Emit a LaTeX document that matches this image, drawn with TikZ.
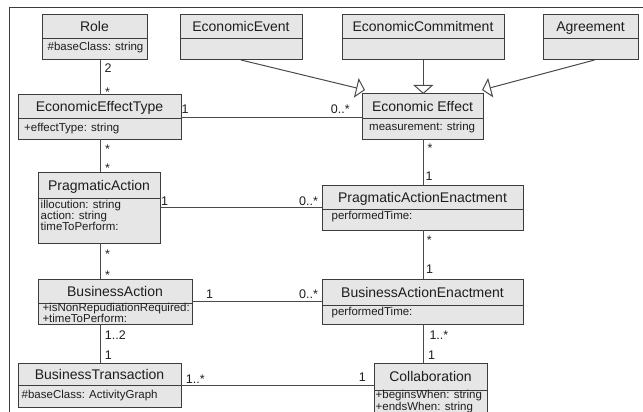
\documentclass[tikz,border=0pt]{standalone}
\usepackage{fontspec}
\setmainfont{Liberation Sans}
\usetikzlibrary{arrows.meta,calc}
\definecolor{boxfill}{HTML}{E6E6E6}
\definecolor{boxline}{HTML}{3C3C3C}
\definecolor{connline}{HTML}{4A4A4A}
\definecolor{txtcol}{HTML}{1E1E1E}
\tikzset{
  clsbox/.style={draw=boxline, fill=boxfill, line width=1pt, inner sep=0pt, outer sep=0pt, rectangle},
  sepline/.style={draw=boxline, line width=1pt},
  clstitle/.style={font=\fontsize{14}{16}\selectfont, text=txtcol, inner sep=0pt, text height=10pt, text depth=0pt},
  attr/.style={font=\fontsize{11.5}{13}\selectfont, text=txtcol, inner sep=0pt, anchor=base west},
  mult/.style={font=\fontsize{12.5}{14}\selectfont, text=txtcol, inner sep=0pt, anchor=base west},
  conn/.style={draw=connline, line width=1pt},
  gen/.style={conn, -{Triangle[open, fill=white, width=20pt, length=9pt]}},
}
\newcommand{\umlclass}[7]{%
  \node[clsbox, minimum width={(#4-#2)*1pt}, minimum height={(#5-#3)*1pt}] (#1) at ({(#2+#4)/2},{(#3+#5)/2}) {};
  \draw[sepline] (#2,#6) -- (#4,#6);
  \node[clstitle] (#1-title) at ({(#2+#4)/2},{(#3+#6)/2}) {#7};
}
\begin{document}
\begin{tikzpicture}[x=1pt,y=-1pt]
\useasboundingbox (0,0) rectangle (643,412);
\clip (0,0) rectangle (643,412);
\fill[white] (0,0) rectangle (643,412);
\draw[draw=boxline, line width=1pt] (9.5,7.5) rectangle (700,500);

% classes
\umlclass{role}{42}{15}{147}{60}{39}{Role}
\umlclass{ev}{180}{15}{302}{60}{39}{EconomicEvent}
\umlclass{ec}{342}{15}{504}{60}{39}{EconomicCommitment}
\umlclass{ag}{543}{15}{638}{60}{39}{Agreement}
\umlclass{eet}{18}{95}{181}{139}{118}{EconomicEffectType}
\umlclass{ee}{362}{94}{483}{139}{118}{Economic Effect}
\umlclass{pa}{38}{172}{160}{243}{198}{PragmaticAction}
\umlclass{pae}{322}{185}{523}{230}{209}{PragmaticActionEnactment}
\umlclass{ba}{38}{279}{192}{324}{303}{BusinessAction}
\umlclass{bae}{322}{279}{523}{324}{305}{BusinessActionEnactment}
\umlclass{bt}{18}{363}{181}{407}{385}{BusinessTransaction}
\umlclass{coll}{374}{363}{487}{425}{390}{Collaboration}

% attributes
\node[attr] (role-a1) at (47.5,50.7) {\#baseClass: string};
\node[attr] (eet-a1) at (24,131.5) {+effectType: string};
\node[attr] (ee-a1) at (369,130.7) {measurement: string};
\node[attr] (pa-a1) at (40.5,208.3) {illocution: string};
\node[attr] (pa-a2) at (40.5,219.5) {action: string};
\node[attr] (pa-a3) at (40.5,230.7) {timeToPerform:};
\node[attr] (pae-a1) at (331.5,219.5) {performedTime:};
\node[attr] (ba-a1) at (42.3,311) {+isNonRepudiationRequired:};
\node[attr] (ba-a2) at (42.3,322.5) {+timeToPerform:};
\node[attr] (bae-a1) at (331.5,315) {performedTime:};
\node[attr] (bt-a1) at (21.5,398.5) {\#baseClass: ActivityGraph};
\node[attr] (coll-a1) at (375.5,398.3) {+beginsWhen: string};
\node[attr] (coll-a2) at (375.5,410) {+endsWhen: string};

% connector guides
\coordinate (cL) at (100,0);
\coordinate (cR) at (423.3,0);
\coordinate (h1) at (0,117);
\coordinate (h2) at (0,207.3);
\coordinate (h3) at (0,301.7);
\coordinate (h4) at (0,385);

% associations
\draw[conn] (role.south -| cL) -- (eet.north -| cL);
\draw[conn] (eet.south -| cL) -- (pa.north -| cL);
\draw[conn] (pa.south -| cL) -- (ba.north -| cL);
\draw[conn] (ba.south -| cL) -- (bt.north -| cL);
\draw[conn] (ee.south -| cR) -- (pae.north -| cR);
\draw[conn] (pae.south -| cR) -- (bae.north -| cR);
\draw[conn] (bae.south -| cR) -- (coll.north -| cR);
\draw[conn] (eet.east |- h1) -- (ee.west |- h1);
\draw[conn] (pa.east |- h2) -- (pae.west |- h2);
\draw[conn] (ba.east |- h3) -- (bae.west |- h3);
\draw[conn] (bt.east |- h4) -- (coll.west |- h4);

% generalizations
\draw[gen] (ev.south) -- ($(ee.north west)+(3,-4)$);
\draw[gen] (ec.south -| cR) -- (ee.north -| cR);
\draw[gen] ($(ag.south)+(4,0)$) -- ($(ee.north east)+(-1,-4)$);

% multiplicities
\node[mult] (m1) at (104.5,73) {2};
\node[mult] (m2) at (105,96.3) {*};
\node[mult] (m3) at (181.4,113.3) {1};
\node[mult] (m4) at (330.7,113.3) {0..*};
\node[mult] (m5) at (105,153) {*};
\node[mult] (m6) at (105,172.3) {*};
\node[mult] (m7) at (427.3,152.5) {*};
\node[mult] (m8) at (425.4,180) {1};
\node[mult] (m9) at (161,205) {1};
\node[mult] (m10) at (299,205) {0..*};
\node[mult] (m11) at (105,258.5) {*};
\node[mult] (m12) at (105,279.5) {*};
\node[mult] (m13) at (426.7,244.6) {*};
\node[mult] (m14) at (426,273) {1};
\node[mult] (m15) at (206,298.5) {1};
\node[mult] (m16) at (299,298.3) {0..*};
\node[mult] (m17) at (104.7,339.5) {1..2};
\node[mult] (m18) at (104.7,359.5) {1};
\node[mult] (m19) at (429.3,339.3) {1..*};
\node[mult] (m20) at (428,359.5) {1};
\node[mult] (m21) at (185.7,383.3) {1..*};
\node[mult] (m22) at (358.7,381.7) {1};
\end{tikzpicture}
\end{document}
